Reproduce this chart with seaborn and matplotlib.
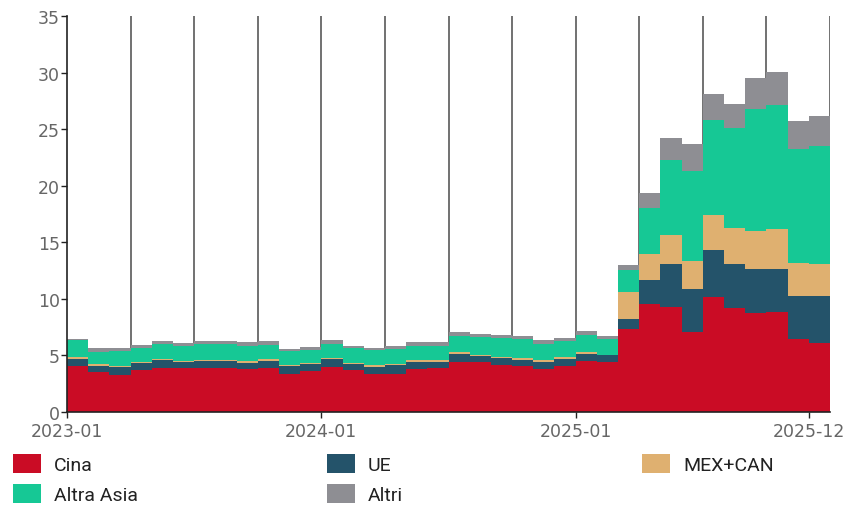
import numpy as np
import pandas as pd
import matplotlib
matplotlib.use("Agg")
import matplotlib.pyplot as plt
from matplotlib.patches import Patch
import seaborn as sns

months = pd.period_range("2023-01", "2025-12", freq="M").strftime("%Y-%m").tolist()

cina = [4.06, 3.53, 3.23, 3.73, 3.91, 3.88, 3.91, 3.91, 3.82, 3.91, 3.38, 3.59,
        3.97, 3.67, 3.38, 3.38, 3.82, 3.91, 4.41, 4.41, 4.17, 4.03, 3.82, 4.03,
        4.55, 4.41, 7.35, 9.56, 9.29, 7.11, 10.20, 9.20, 8.74, 8.82, 6.47, 6.14]
ue = [0.64, 0.56, 0.71, 0.62, 0.65, 0.53, 0.59, 0.59, 0.53, 0.62, 0.65, 0.65,
      0.68, 0.53, 0.59, 0.74, 0.59, 0.50, 0.71, 0.53, 0.56, 0.59, 0.59, 0.67,
      0.57, 0.59, 0.88, 2.09, 3.80, 3.77, 4.10, 3.89, 3.93, 3.85, 3.82, 4.15]
mexcan = [0.18, 0.11, 0.12, 0.05, 0.14, 0.12, 0.12, 0.12, 0.12, 0.12, 0.14, 0.11,
          0.14, 0.15, 0.15, 0.14, 0.15, 0.15, 0.18, 0.14, 0.15, 0.15, 0.15, 0.15,
          0.18, 0.08, 2.41, 2.29, 2.56, 2.50, 3.11, 3.20, 3.30, 3.51, 2.86, 2.77]
altra_asia = [1.44, 1.10, 1.29, 1.25, 1.27, 1.26, 1.38, 1.38, 1.38, 1.23, 1.18, 1.12,
              1.24, 1.30, 1.32, 1.27, 1.26, 1.26, 1.46, 1.51, 1.65, 1.70, 1.47, 1.41,
              1.52, 1.39, 1.95, 4.09, 6.62, 7.94, 8.39, 8.78, 10.80, 10.94, 10.12, 10.47]
altri = [0.15, 0.35, 0.30, 0.23, 0.32, 0.30, 0.29, 0.29, 0.33, 0.36, 0.24, 0.27,
         0.29, 0.17, 0.26, 0.29, 0.36, 0.36, 0.30, 0.29, 0.29, 0.24, 0.29, 0.30,
         0.33, 0.29, 0.41, 1.30, 1.94, 2.33, 2.29, 2.11, 2.76, 2.91, 2.41, 2.62]

series_names = ["Cina", "UE", "MEX+CAN", "Altra Asia", "Altri"]
series_values = [cina, ue, mexcan, altra_asia, altri]
colors = {"Cina": "#CA0C25", "UE": "#24536A", "MEX+CAN": "#DFB070",
          "Altra Asia": "#16C895", "Altri": "#8E8E93"}

xtick_labels = ["2023-01", "2024-01", "2025-01", "2025-12"]
yticks = [0, 5, 10, 15, 20, 25, 30, 35]

rows = []
for name, vals in zip(series_names, series_values):
    for i, (m, v) in enumerate(zip(months, vals)):
        rows.append({"idx": i, "month": m, "serie": name, "valore": v})
df = pd.DataFrame(rows)

sns.set_style("ticks")
plt.rcParams["font.family"] = ["DejaVu Sans"]

fig = plt.figure(figsize=(8.56, 5.06), dpi=100)
ax = fig.add_axes([67/856, 1-413/506, (830-67)/856, (413-17)/506])

n = len(months)
# quarter lines
quarters = [i for i in range(3, n + 1, 3)]
ax.vlines(quarters, 0, 35, colors="#666666", linewidth=1.3, zorder=0)

sns.histplot(data=df, x="idx", weights="valore", hue="serie",
             hue_order=series_names[::-1], multiple="stack",
             bins=n, binrange=(0, n), palette=colors, element="bars",
             edgecolor="white", linewidth=0.0, alpha=1, legend=False, ax=ax,
             zorder=2)

ax.set_xlim(0, n)
ax.set_ylim(0, 35)
ax.set_yticks(yticks)
ax.set_xticks([months.index(l) for l in xtick_labels])
ax.set_xticklabels(xtick_labels)
ax.set_xlabel("")
ax.set_ylabel("")
for s in ["top", "right"]:
    ax.spines[s].set_visible(False)
for s in ["left", "bottom"]:
    ax.spines[s].set_color("#222222")
    ax.spines[s].set_linewidth(1.2)
ax.tick_params(axis="both", labelsize=12.5, colors="#222222", labelcolor="#666666",
               length=4, width=1)
ax.tick_params(axis="x", pad=3.5)
ax.tick_params(axis="y", pad=1)

# legend in three columns
leg_cols = [["Cina", "Altra Asia"], ["UE", "Altri"], ["MEX+CAN"]]
col_x = [13/856, 327/856, 642/856]
fs = 14
for names, x0 in zip(leg_cols, col_x):
    handles = [Patch(facecolor=colors[nm], edgecolor="none") for nm in names]
    lg = fig.legend(handles, names, loc="upper left", bbox_to_anchor=(x0, 1-455/506),
                    frameon=False, prop={"family": "Roboto", "size": fs},
                    handlelength=1.44, handleheight=1.13, handletextpad=0.67,
                    labelspacing=0.5, borderpad=0, borderaxespad=0)
    for t in lg.get_texts():
        t.set_color("#222222")

fig.savefig("out.png", dpi=100)
